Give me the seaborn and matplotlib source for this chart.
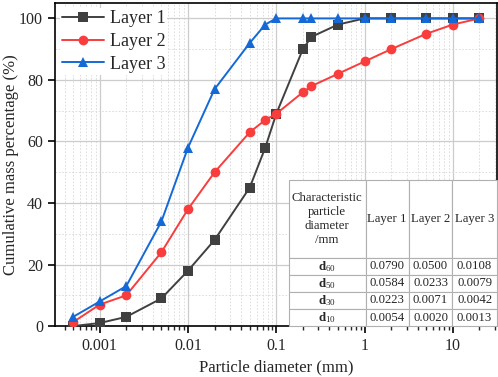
import numpy as np
import pandas as pd
import matplotlib
matplotlib.use("Agg")
import matplotlib.pyplot as plt
import seaborn as sns
from matplotlib.ticker import LogLocator, FixedLocator, MultipleLocator

# Particle size distribution data
diameter = [0.0005, 0.001, 0.002, 0.005, 0.01, 0.02, 0.05, 0.075,
            0.1, 0.2, 0.25, 0.5, 1, 2, 5, 10, 20]
layer1 = [0, 1, 3, 9, 18, 28, 45, 58, 69, 90, 94, 98, 100, 100, 100, 100, 100]
layer2 = [1.3, 7, 10, 24, 38, 50, 63, 67, 69, 76, 78, 82, 86, 90, 95, 98, 100]
layer3 = [3, 8, 13, 34, 58, 77, 92, 98, 100, 100, 100, 100, 100, 100, 100, 100, 100]

layer_names = ["Layer 1", "Layer 2", "Layer 3"]
layer_colors = ["#404040", "#f93c3c", "#1469d6"]
layer_markers = ["s", "o", "^"]

# Characteristic particle diameters table
char_rows = [r"$\mathbf{d}_{60}$", r"$\mathbf{d}_{50}$",
             r"$\mathbf{d}_{30}$", r"$\mathbf{d}_{10}$"]
char_layer1 = ["0.0790", "0.0584", "0.0223", "0.0054"]
char_layer2 = ["0.0500", "0.0233", "0.0071", "0.0020"]
char_layer3 = ["0.0108", "0.0079", "0.0042", "0.0013"]

sns.set_style("ticks")
plt.rcParams["font.family"] = ["Liberation Serif", "DejaVu Serif"]
plt.rcParams["mathtext.fontset"] = "custom"
plt.rcParams["mathtext.rm"] = "Liberation Serif"
plt.rcParams["mathtext.bf"] = "Liberation Serif:bold"
plt.rcParams["mathtext.it"] = "Liberation Serif:italic"

df = pd.DataFrame({
    "diameter": diameter * 3,
    "value": layer1 + layer2 + layer3,
    "layer": sum([[n] * len(diameter) for n in layer_names], []),
})

fig = plt.figure(figsize=(4.98, 3.77), dpi=100)
ax = fig.add_axes([0.110, 0.135, 0.888, 0.857])

for name, color, marker in zip(layer_names, layer_colors, layer_markers):
    sub = df[df["layer"] == name]
    sns.lineplot(data=sub, x="diameter", y="value", ax=ax, color=color,
                 marker=marker, markersize=7, markeredgewidth=0,
                 linewidth=1.4, label=name, zorder=3)

ax.set_xscale("log")
ax.set_xlim(0.00031, 31.6)
ax.set_ylim(0, 105)
ax.yaxis.set_major_locator(FixedLocator([0, 20, 40, 60, 80, 100]))
ax.yaxis.set_minor_locator(MultipleLocator(10))
ax.xaxis.set_minor_locator(LogLocator(base=10, subs=np.arange(2, 10), numticks=20))
ax.set_xticks([0.001, 0.01, 0.1, 1, 10])
ax.set_xticklabels(["0.001", "0.01", "0.1", "1", "10"])

ax.grid(which="major", color="#cccccc", linewidth=0.9, zorder=0)
ax.grid(which="minor", color="#d8d8d8", linewidth=0.6, linestyle=(0, (2, 2)), zorder=0)
ax.set_axisbelow(True)

ax.tick_params(axis="both", which="major", direction="out", length=5, width=1.2,
               labelsize=11.5, color="black")
ax.tick_params(axis="x", which="minor", direction="out", length=3, width=1)
ax.tick_params(axis="y", which="minor", length=0)
for sp in ax.spines.values():
    sp.set_visible(True)
    sp.set_linewidth(1.2)
    sp.set_color("black")

ax.set_xlabel("Particle diameter (mm)", fontsize=12, labelpad=4)
ax.set_ylabel("Cumulative mass percentage (%)", fontsize=12, labelpad=0)

leg = ax.legend(loc="upper left", fontsize=13, frameon=True, framealpha=1,
                edgecolor="none", handlelength=2.3, borderaxespad=0.3,
                borderpad=0.1, labelspacing=0.32, handletextpad=0.35)
leg.get_frame().set_linewidth(0)

# Table in the lower right corner
cell_text = [[r, a, b, c] for r, a, b, c in zip(char_rows, char_layer1, char_layer2, char_layer3)]
col_labels = ["Characteristic\nparticle\ndiameter\n/mm", "Layer 1", "Layer 2", "Layer 3"]
tab = ax.table(cellText=cell_text, colLabels=col_labels,
               colWidths=[76.7, 43.3, 43.3, 44.7],
               cellLoc="center", bbox=[0.529, 0.0, 0.471, 0.452])
tab.auto_set_font_size(False)
tab.set_zorder(5)
for (r, c), cell in tab.get_celld().items():
    cell.set_edgecolor("#b0b0b0")
    cell.set_linewidth(0.8)
    cell.set_facecolor("white")
    cell.get_text().set_fontsize(9.2)
    cell.set_height(77 if r == 0 else 17)
    cell.PAD = 0.02

fig.savefig("out.png", dpi=100)
